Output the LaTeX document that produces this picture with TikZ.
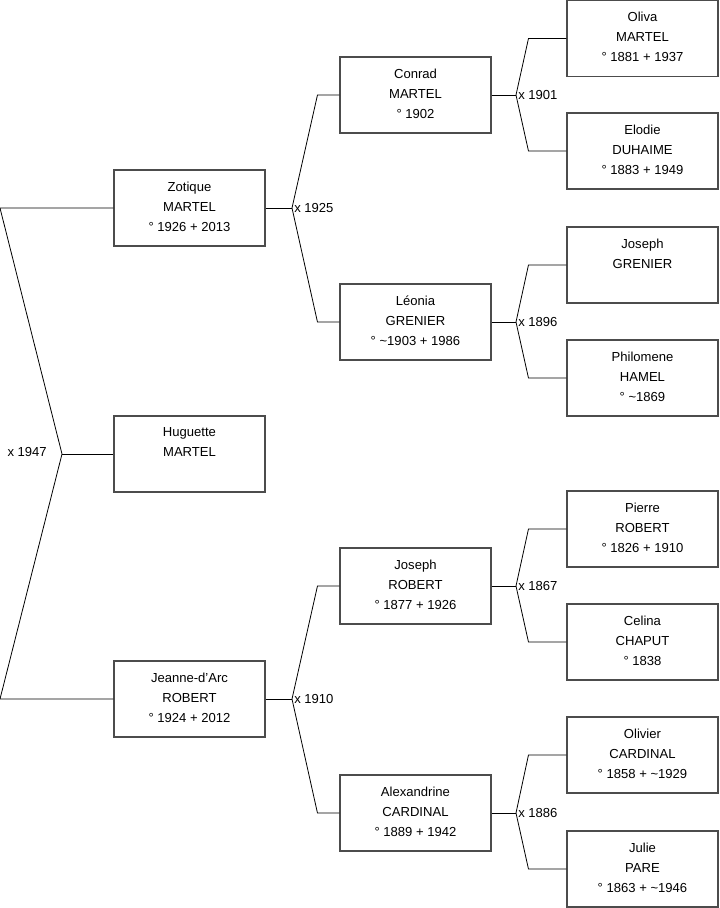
\documentclass[tikz,border=0pt]{standalone}
\usepackage{fontspec}
\setmainfont{Liberation Sans}
\begin{document}
\begin{tikzpicture}[x=0.75pt,y=-0.75pt,
  person/.style={draw=black!70, line width=0.8pt, minimum width=113.25pt, minimum height=57pt, inner sep=0pt, text depth=2.6pt, align=center, font=\fontsize{9.8}{15}\selectfont},
  conn/.style={draw=black, line width=0.6pt},
  marr/.style={font=\fontsize{9.8}{11}\selectfont, inner sep=1.5pt}]
\useasboundingbox (0,0) rectangle (719,908);
% column 1
\node[person] (zot) at (189.5,208) {Zotique\\MARTEL\\° 1926 + 2013};
\node[person] (hug) at (189.5,454) {Huguette\\MARTEL\\\mbox{}};
\node[person] (jea) at (189.5,699) {Jeanne-d'Arc\\ROBERT\\° 1924 + 2012};
% column 2
\node[person] (con) at (415.5,95) {Conrad\\MARTEL\\° 1902};
\node[person] (leo) at (415.5,322) {Léonia\\GRENIER\\° \textasciitilde1903 + 1986};
\node[person] (jro) at (415.5,586) {Joseph\\ROBERT\\° 1877 + 1926};
\node[person] (ale) at (415.5,813) {Alexandrine\\CARDINAL\\° 1889 + 1942};
% column 3
\node[person] (oli) at (642.5,38.5) {Oliva\\MARTEL\\° 1881 + 1937};
\node[person] (elo) at (642.5,151) {Elodie\\DUHAIME\\° 1883 + 1949};
\node[person] (jgr) at (642.5,265) {Joseph\\GRENIER\\\mbox{}};
\node[person] (phi) at (642.5,378) {Philomene\\HAMEL\\° \textasciitilde1869};
\node[person] (pie) at (642.5,529) {Pierre\\ROBERT\\° 1826 + 1910};
\node[person] (cel) at (642.5,642) {Celina\\CHAPUT\\° 1838};
\node[person] (ovr) at (642.5,755) {Olivier\\CARDINAL\\° 1858 + \textasciitilde1929};
\node[person] (jul) at (642.5,869) {Julie\\PARE\\° 1863 + \textasciitilde1946};
% vertices
\coordinate (a0) at (0,208);
\coordinate (b0) at (0,699);
\coordinate (v0) at (62,454);
\coordinate (v1) at (292,208);
\coordinate (v2) at (292,699);
\coordinate (v3) at (516,95);
\coordinate (v4) at (516,322);
\coordinate (v5) at (516,586);
\coordinate (v6) at (516,813);
% connectors
\draw[conn] (zot.west) -- (a0) -- (v0) -- (b0) -- (jea.west);
\draw[conn] (v0) -- (hug.west);
\draw[conn] (zot.east) -- (v1);
\draw[conn] (con.west) -- ([xshift=-16.5pt]con.west) -- (v1) -- ([xshift=-16.5pt]leo.west) -- (leo.west);
\draw[conn] (jea.east) -- (v2);
\draw[conn] (jro.west) -- ([xshift=-16.5pt]jro.west) -- (v2) -- ([xshift=-16.5pt]ale.west) -- (ale.west);
\draw[conn] (con.east) -- (v3);
\draw[conn] (oli.west) -- ([xshift=-28.5pt]oli.west) -- (v3) -- ([xshift=-28.5pt]elo.west) -- (elo.west);
\draw[conn] (leo.east) -- (v4);
\draw[conn] (jgr.west) -- ([xshift=-28.5pt]jgr.west) -- (v4) -- ([xshift=-28.5pt]phi.west) -- (phi.west);
\draw[conn] (jro.east) -- (v5);
\draw[conn] (pie.west) -- ([xshift=-28.5pt]pie.west) -- (v5) -- ([xshift=-28.5pt]cel.west) -- (cel.west);
\draw[conn] (ale.east) -- (v6);
\draw[conn] (ovr.west) -- ([xshift=-28.5pt]ovr.west) -- (v6) -- ([xshift=-28.5pt]jul.west) -- (jul.west);
% marriage labels
\node[marr, anchor=east] (m0) at (49,452) {x 1947};
\node[marr, anchor=west] (m1) at (v1) {x 1925};
\node[marr, anchor=west] (m2) at (v2) {x 1910};
\node[marr, anchor=west] (m3) at (v3) {x 1901};
\node[marr, anchor=west] (m4) at (v4) {x 1896};
\node[marr, anchor=west] (m5) at (v5) {x 1867};
\node[marr, anchor=west] (m6) at (v6) {x 1886};
\end{tikzpicture}
\end{document}
